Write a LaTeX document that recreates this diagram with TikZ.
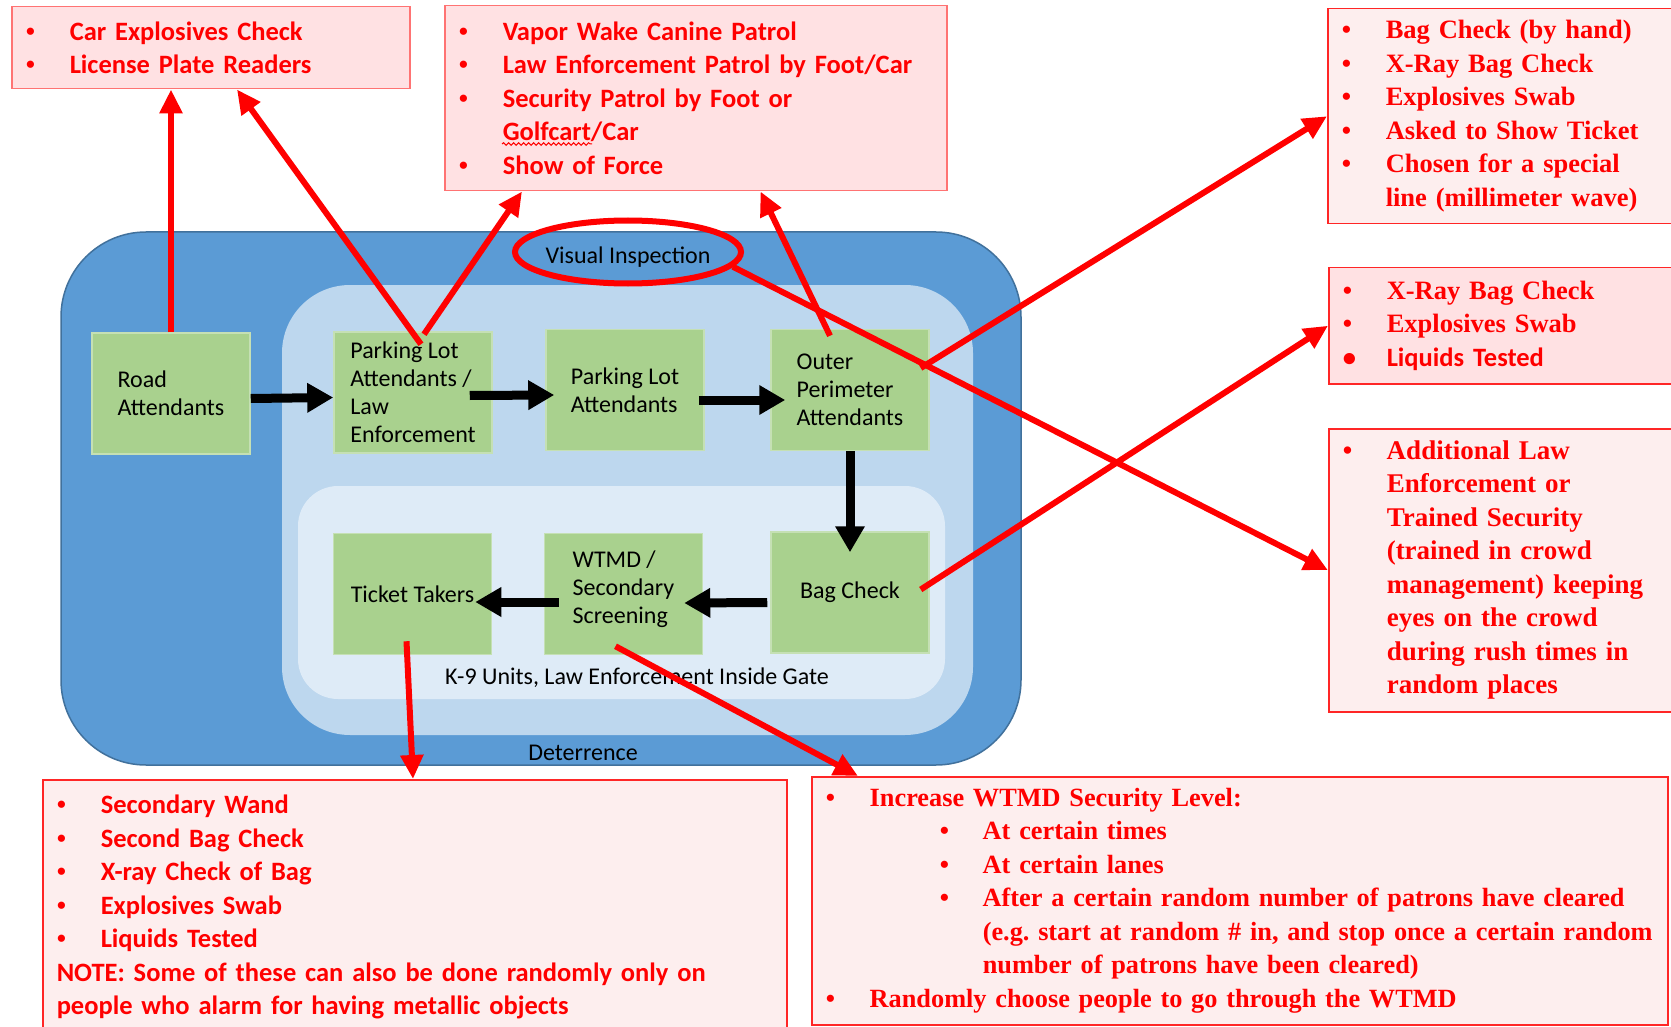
\documentclass[tikz,border=0pt]{standalone}
\usepackage{fontspec}
\setmainfont{Carlito}
\newfontfamily\tnr{Liberation Serif}
\usetikzlibrary{arrows.meta,shapes.geometric,decorations.pathmorphing}
\definecolor{deepblue}{HTML}{5B9BD5}
\definecolor{edgeblue}{HTML}{41719C}
\definecolor{midblue}{HTML}{BDD7EE}
\definecolor{paleblue}{HTML}{DEEBF7}
\definecolor{leaf}{HTML}{A9D18E}
\definecolor{leafedge}{HTML}{C5E0B4}
\definecolor{pinkfill}{HTML}{FFE1E3}
\definecolor{rosefill}{HTML}{FDEEEE}
\newcommand\bdot{{\tnr\textbullet}}
\newcommand\bul{\makebox[44pt][l]{\bdot}}
\newcommand\subbul{\hspace*{114pt}\makebox[43pt][l]{\bdot}}
\newcommand\hangpad{\hspace*{44pt}}
\frenchspacing
\begin{document}
\begin{tikzpicture}[x=1pt,y=-1pt,
  gbox/.style={fill=leaf,draw=leafedge,line width=1.5pt,minimum width=158pt,minimum height=121pt,
    align=left,font=\fontsize{24}{28}\selectfont},
  notebox/.style={anchor=north west,align=left,text=red,inner xsep=14pt,inner ysep=9pt,
    line width=1.5pt,font=\bfseries\fontsize{26.5}{33.5}\selectfont},
  topnote/.style={notebox,fill=pinkfill,draw=red!55},
  sidenote/.style={notebox,fill=rosefill,draw=red!85},
  flow/.style={line width=9pt,-{Triangle[length=26pt,width=28pt]}},
  pointer/.style={red,line width=6pt,-{Triangle[length=24pt,width=22pt]}},
  tag/.style={font=\fontsize{24}{28}\selectfont}]
\useasboundingbox (0,0) rectangle (1671,1027);
\fill[white] (0,0) rectangle (1671,1027);
\filldraw[fill=deepblue,draw=edgeblue,line width=1.5pt,rounded corners=85pt] (61,232) rectangle (1021,765);
\fill[midblue,rounded corners=68pt] (282,285) rectangle (973,735);
\fill[paleblue,rounded corners=40pt] (298,486) rectangle (945,699);
\node[gbox] (road) at (171,393.5) {Road\\Attendants};
\node[gbox] (plle) at (413,392.5) {Parking Lot\\Attendants /\\Law\\Enforcement};
\node[gbox] (pl) at (625,390) {Parking Lot\\Attendants};
\node[gbox] (op) at (850,390) {Outer\\Perimeter\\Attendants};
\node[gbox] (tt) at (412.5,594) {Ticket Takers};
\node[gbox] (wtmd) at (623.5,594) {WTMD /\\Secondary\\Screening\\[-14pt]};
\node[gbox] (bag) at (850,592.5) {Bag Check};
\node[tag] (k9) at (637,678) {K-9 Units, Law Enforcement Inside Gate};
\node[tag] (deter) at (583,753) {Deterrence};
\node[ellipse,draw=red,line width=6pt,inner sep=0pt,minimum width=226pt,minimum height=63pt,tag] (vis) at (628,252)
  {\makebox[140pt]{\raisebox{-12pt}[0pt][0pt]{Visual Inspection}}};
\draw[flow] ([yshift=-5pt]road.east) -- ([yshift=-5pt]plle.west);
\draw[flow] ([xshift=-23pt,yshift=-3pt]plle.east) -- ([xshift=9pt,yshift=-5pt]pl.west);
\draw[flow] ([xshift=-6pt,yshift=-10pt]pl.east) -- ([xshift=15pt,yshift=-10pt]op.west);
\draw[flow] (op.south) -- ([yshift=-21pt]bag.north);
\draw[flow] ([xshift=-3pt,yshift=-10pt]bag.west) -- ([xshift=-19pt,yshift=-9pt]wtmd.east);
\draw[flow] ([xshift=15pt,yshift=-8pt]wtmd.west) -- ([xshift=-17pt,yshift=-8pt]tt.east);
\node[topnote,text width=370pt,minimum height=82pt] (tl) at (11,6)
  {\bul Car Explosives Check\\ \bul License Plate Readers};
\node[topnote,text width=474pt,minimum height=185pt] (tm) at (444,5)
  {\bul Vapor Wake Canine Patrol\\ \bul Law Enforcement Patrol by Foot/Car\\
   \bul Security Patrol by Foot or\\ \hangpad Golfcart/Car\\ \bul Show of Force};
\draw[red,line width=1pt,decorate,decoration={snake,amplitude=1.3pt,segment length=5pt}] (502,144) -- (592,144);
\node[sidenote,text width=322pt,minimum height=215pt] (tr) at (1327,8)
  {\tnr\bul Bag Check (by hand)\\ \bul X-Ray Bag Check\\ \bul Explosives Swab\\
   \bul Asked to Show Ticket\\ \bul Chosen for a special\\ \hangpad line (millimeter wave)};
\node[notebox,fill=pinkfill,draw=red!85,text width=321pt,minimum height=116pt] (rb2) at (1328,267)
  {{\tnr\bul X-Ray Bag Check}\\ {\tnr\bul Explosives Swab}\\ \makebox[44pt][l]{\textbullet}Liquids Tested};
\node[sidenote,text width=321pt,minimum height=283pt,font=\bfseries\fontsize{27}{33.5}\selectfont] (rb3) at (1328,428)
  {\tnr\bul Additional Law\\ \hangpad Enforcement or\\ \hangpad Trained Security\\
   \hangpad (trained in crowd\\ \hangpad management) keeping\\ \hangpad eyes on the crowd\\
   \hangpad during rush times in\\ \hangpad random places};
\node[sidenote,text width=716pt,minimum height=255pt] (bl) at (42,779)
  {\bul Secondary Wand\\ \bul Second Bag Check\\ \bul X-ray Check of Bag\\ \bul Explosives Swab\\
   \bul Liquids Tested\\ NOTE: Some of these can also be done randomly only on\\
   people who alarm for having metallic objects};
\node[sidenote,text width=828pt,minimum height=248pt,font=\bfseries\fontsize{26.3}{33.5}\selectfont] (br) at (811,776)
  {\tnr\bul Increase WTMD Security Level:\\ \subbul At certain times\\ \subbul At certain lanes\\
   \subbul After a certain random number of patrons have cleared\\
   \hspace*{157pt}\mbox{(e.g. start at random \# in, and stop once a certain random}\\
   \hspace*{157pt}number of patrons have been cleared)\\
   \bul Randomly choose people to go through the WTMD};
\draw[pointer] (road.north) -- (road.north |- tl.south);
\draw[pointer] ([xshift=8pt,yshift=-13pt]plle.north) -- ([xshift=226pt]tl.south west);
\draw[pointer] ([xshift=11pt,yshift=-3pt]plle.north) -- ([xshift=78pt]tm.south west);
\draw[pointer] ([xshift=-20pt,yshift=-7pt]op.north) -- ([xshift=-187pt]tm.south east);
\draw[pointer] ([xshift=-9pt,yshift=22pt]op.east) -- (tr.west);
\draw[pointer] (vis.-8) -- (rb3.west);
\draw[pointer] ([xshift=-9pt,yshift=3pt]bag.east) -- (rb2.west);
\draw[pointer] ([xshift=-6pt,yshift=14pt]tt.south) -- ([xshift=371pt]bl.north west);
\draw[pointer] ([xshift=-8pt,yshift=9pt]wtmd.south) -- ([xshift=47pt]br.north west);
\end{tikzpicture}
\end{document}
